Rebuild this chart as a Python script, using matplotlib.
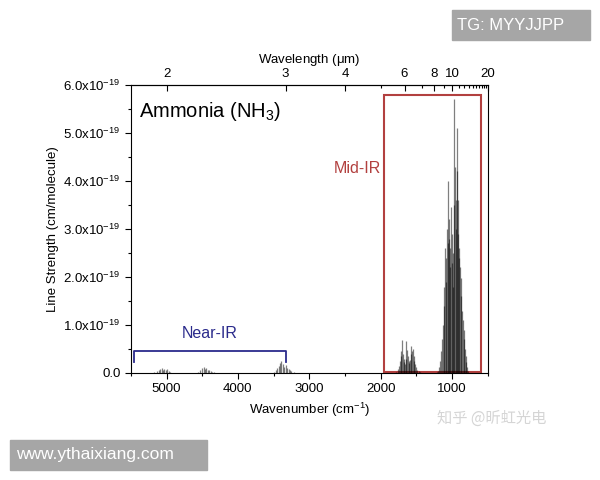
import numpy as np
import matplotlib.pyplot as plt
from matplotlib.patches import Rectangle
from matplotlib.ticker import FixedLocator, MultipleLocator, FuncFormatter, NullFormatter

plt.rcParams['font.family'] = ['Liberation Sans', 'DejaVu Sans']
plt.rcParams['mathtext.default'] = 'regular'

# line positions (cm-1) and strengths (1e-19 cm/molecule)
nu_nir1 = [5170, 5140, 5110, 5090, 5070, 5050, 5030, 5010, 4990, 4970, 4950]
s_nir1 = [0.02, 0.04, 0.06, 0.08, 0.10, 0.07, 0.09, 0.06, 0.08, 0.04, 0.02]
nu_nir2 = [4560, 4530, 4500, 4480, 4460, 4440, 4420, 4400, 4380, 4360, 4340]
s_nir2 = [0.02, 0.06, 0.10, 0.12, 0.08, 0.10, 0.07, 0.06, 0.05, 0.03, 0.02]
nu_nir3 = [3500, 3470, 3450, 3430, 3410, 3390, 3370, 3350, 3330, 3310, 3290, 3270, 3250, 3220]
s_nir3 = [0.03, 0.06, 0.10, 0.15, 0.20, 0.25, 0.18, 0.12, 0.16, 0.10, 0.08, 0.06, 0.04, 0.02]

nu_v4 = [1780, 1760, 1745, 1730, 1720, 1710, 1700, 1690, 1680, 1670, 1660, 1650,
         1640, 1630, 1620, 1610, 1600, 1590, 1580, 1570, 1560, 1550, 1540, 1530,
         1515, 1500, 1485, 1470, 1455]
s_v4 = [0.03, 0.08, 0.15, 0.25, 0.35, 0.45, 0.68, 0.40, 0.30, 0.22, 0.18, 0.30,
        0.66, 0.48, 0.35, 0.25, 0.20, 0.28, 0.40, 0.57, 0.45, 0.50, 0.35, 0.25,
        0.18, 0.12, 0.07, 0.04, 0.02]

nu_v2 = [1210, 1195, 1180, 1165, 1150, 1140, 1130, 1120, 1110, 1100, 1090, 1080,
         1072, 1064, 1056, 1048, 1040, 1032, 1024, 1016, 1008, 1000, 992, 984,
         976, 968, 960, 952, 944, 936, 930, 924, 916, 908, 900, 890, 880, 870,
         860, 850, 840, 830, 820, 810, 800, 790, 780]
s_v2 = [0.02, 0.05, 0.12, 0.25, 0.45, 0.70, 1.00, 1.40, 1.80, 2.60, 1.90, 2.40,
        3.00, 2.70, 4.00, 3.20, 2.80, 2.20, 2.60, 3.45, 2.90, 2.30, 1.80, 2.50,
        3.50, 5.70, 4.30, 3.60, 3.00, 4.20, 5.10, 3.60, 2.90, 2.40, 2.60, 2.20,
        1.98, 1.60, 1.30, 1.10, 0.90, 0.70, 0.50, 0.35, 0.22, 0.12, 0.05]

x_ticks = [5000, 4000, 3000, 2000, 1000]
top_major = [2, 3, 4, 6, 8, 10, 20]
top_minor = [5, 7, 9, 11, 12, 13, 14, 15, 16, 17, 18, 19]
y_ticks = [0, 1, 2, 3, 4, 5, 6]

fig = plt.figure(figsize=(6, 4.8), dpi=100)
ax = fig.add_axes([0.218, 0.223, 0.595, 0.6])

for nu, s in [(nu_nir1, s_nir1), (nu_nir2, s_nir2), (nu_nir3, s_nir3),
              (nu_v4, s_v4), (nu_v2, s_v2)]:
    ax.vlines(nu, 0, np.array(s) * 1e-19, color='black', alpha=0.5, lw=0.9)

ax.set_xlim(5500, 500)
ax.set_ylim(0, 6e-19)
ax.xaxis.set_major_locator(FixedLocator(x_ticks))
ax.xaxis.set_minor_locator(MultipleLocator(500))
ax.yaxis.set_major_locator(FixedLocator([v * 1e-19 for v in y_ticks]))
ax.yaxis.set_minor_locator(MultipleLocator(0.5e-19))


def yfmt(v, pos):
    n = v / 1e-19
    if abs(n) < 1e-6:
        return '0.0'
    return '$%.1fx10^{-19}$' % n


ax.yaxis.set_major_formatter(FuncFormatter(yfmt))
ax.tick_params(axis='both', which='major', direction='out', length=4, labelsize=9.5, width=0.8)
ax.tick_params(axis='both', which='minor', direction='out', length=2.5, width=0.8)
ax.tick_params(top=False, right=False, which='both')
ax.set_xlabel('Wavenumber (cm$^{-1}$)', fontsize=9.5, labelpad=4)
ax.set_ylabel('Line Strength (cm/molecule)', fontsize=9.5, labelpad=3)

top = ax.secondary_xaxis('top', functions=(lambda x: 1e4 / x, lambda x: 1e4 / x))
top.xaxis.set_major_locator(FixedLocator(top_major))
top.xaxis.set_minor_locator(FixedLocator(top_minor))
top.xaxis.set_minor_formatter(NullFormatter())
top.xaxis.set_major_formatter(FuncFormatter(lambda v, p: '%d' % v))
top.tick_params(which='major', direction='in', length=4, labelsize=9.5, width=0.8)
top.tick_params(which='minor', direction='in', length=2.5, width=0.8)
top.set_xlabel('Wavelength ($\\mu$m)', fontsize=9.5, labelpad=4)

# Mid-IR box
mid_color = '#b2403f'
ax.add_patch(Rectangle((1950, 0.01e-19), 600 - 1950, 5.78e-19, fill=False,
                       edgecolor=mid_color, lw=1.5))
ax.text(2330, 4.25e-19, 'Mid-IR', color=mid_color, fontsize=11.5, ha='center', va='center')

# Near-IR bracket
nir_color = '#2b2b8c'
ax.plot([5460, 5460, 3320, 3320], [0.22e-19, 0.45e-19, 0.45e-19, 0.22e-19],
        color=nir_color, lw=1.3)
ax.text(4400, 0.83e-19, 'Near-IR', color=nir_color, fontsize=11.5, ha='center', va='center')

ax.text(5380, 5.45e-19, 'Ammonia (NH$_3$)', fontsize=14.5, ha='left', va='center')

# watermarks
fig.patches.append(Rectangle((452 / 600, 1 - 40 / 480), 138 / 600, 30 / 480,
                             transform=fig.transFigure, color='#a6a6a6'))
fig.text(457 / 600, 1 - 25 / 480, 'TG: MYYJJPP', color='white', fontsize=12,
         ha='left', va='center')
fig.patches.append(Rectangle((10 / 600, 1 - 470 / 480), 197 / 600, 30 / 480,
                             transform=fig.transFigure, color='#a6a6a6'))
fig.text(16 / 600, 1 - 455 / 480, 'www.ythaixiang.com', color='white', fontsize=12.5,
         ha='left', va='center')
fig.text(492 / 600, 1 - 418 / 480, '知乎 @昕虹光电', color='#d5d5d5', fontsize=11,
         ha='center', va='center', family=['Noto Sans CJK SC', 'DejaVu Sans'])

fig.savefig('out.png', dpi=100)
